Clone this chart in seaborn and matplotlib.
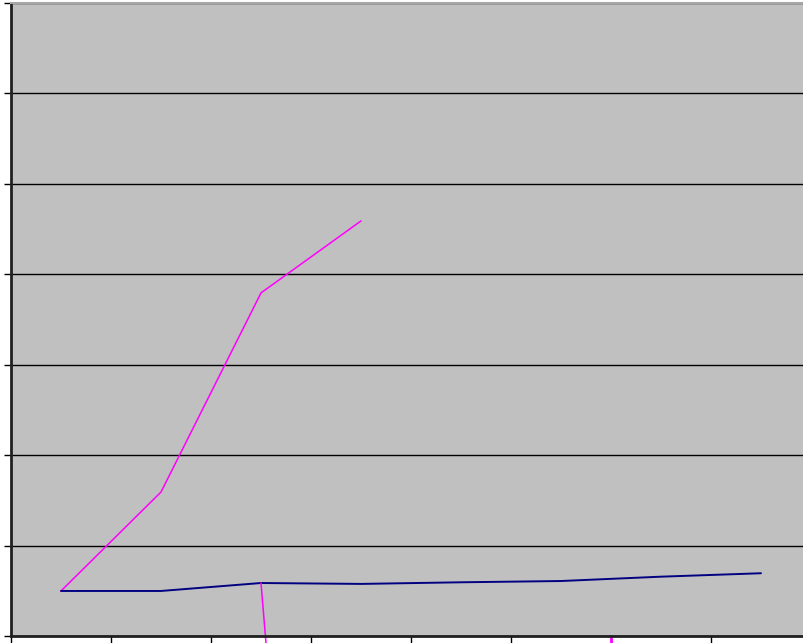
import numpy as np
import pandas as pd
import seaborn as sns
import matplotlib
matplotlib.use("Agg")
import matplotlib.pyplot as plt

# categories along x (no labels shown in the chart)
cats = [0, 1, 2, 3, 4, 5, 6, 7]

# values (y axis runs 0..35, gridline every 5)
blue_vals = [2.49, 2.49, 2.93, 2.88, 2.97, 3.04, 3.28, 3.47]
pink_vals = [2.49, 7.96, 18.97, 22.95, np.nan, np.nan, np.nan, np.nan]
pink_drop = [np.nan, np.nan, 2.93, -63.4, np.nan, np.nan, np.nan, np.nan]

df = pd.DataFrame({"cat": cats, "blue": blue_vals,
                   "pink": pink_vals, "drop": pink_drop})

sns.set_style("white", {"axes.facecolor": "#C0C0C0"})

fig = plt.figure(figsize=(8.04, 6.43), dpi=100)
ax = fig.add_axes([11 / 804, 7 / 643, 800 / 804, 633 / 643])

sns.lineplot(data=df, x="cat", y="pink", color="#FF00FF", linewidth=1.1, ax=ax)
sns.lineplot(data=df, x="cat", y="blue", color="#000080", linewidth=1.4, ax=ax)
sns.lineplot(data=df, x="cat", y="drop", color="#FF00FF", linewidth=1.1, ax=ax,
             clip_on=False)

ax.set_xlim(-0.5, 7.5)
ax.set_ylim(0, 35)
ax.set_yticks(np.arange(0, 36, 5))
ax.set_xticks(np.arange(-0.5, 7.0, 1))
ax.set_xticklabels([])
ax.set_yticklabels([])
ax.set_xlabel("")
ax.set_ylabel("")
ax.yaxis.grid(True, color="black", linewidth=1)
ax.set_axisbelow(True)
ax.tick_params(axis="both", which="major", direction="out", length=5, width=1,
               color="black", bottom=True, left=True)

for side in ["left", "bottom"]:
    ax.spines[side].set_color("#202020")
    ax.spines[side].set_linewidth(2)
ax.spines["top"].set_color("#A8A8A8")
ax.spines["top"].set_linewidth(1.5)
ax.spines["right"].set_visible(False)

# one tick on the bottom axis is painted magenta in the original
pink_tick = ax.xaxis.get_major_ticks()[6].tick1line
pink_tick.set_markeredgecolor("#FF00FF")
pink_tick.set_markeredgewidth(2)

fig.savefig("out.png", dpi=100)
